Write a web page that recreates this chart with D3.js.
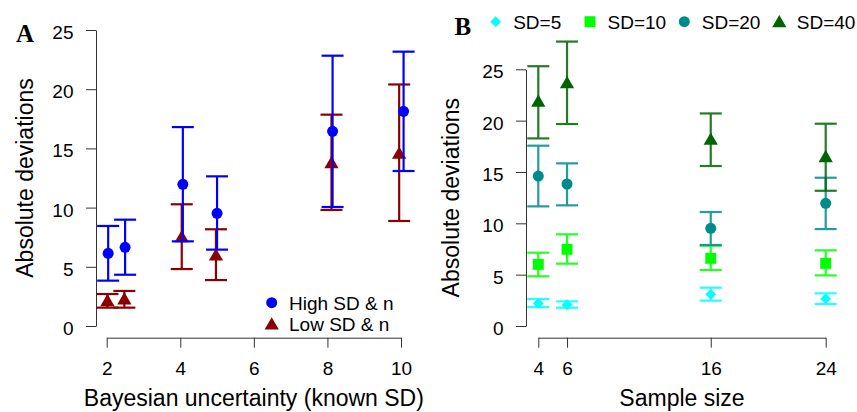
<!DOCTYPE html>
<html>
<head>
<meta charset="utf-8">
<script src="https://cdn.jsdelivr.net/npm/d3@7"></script>
<style>
  body { margin: 0; background: #fff; }
  svg { display: block; font-family: "Liberation Sans", Arial, sans-serif; }
</style>
</head>
<body>
<div id="chart"></div>
<script>
// Panel A: Bayesian uncertainty (known SD)
const aTicks = [2, 4, 6, 8, 10];
const yTicks = [0, 5, 10, 15, 20, 25];

const highX = [2.04, 2.5, 4.07, 5.0, 8.14, 10.07];
const highMean = [6.14, 6.65, 11.97, 9.52, 16.44, 18.13];
const highLo = [3.83, 4.33, 7.15, 6.45, 10.05, 13.09];
const highHi = [8.45, 8.98, 16.8, 12.64, 22.83, 23.17];

const lowX = [2.02, 2.48, 4.04, 4.97, 8.11, 9.95];
const lowMean = [2.15, 2.3, 7.55, 6.0, 13.8, 14.6];
const lowLo = [1.55, 1.55, 4.81, 3.88, 9.8, 8.87];
const lowHi = [2.7, 2.96, 10.28, 8.17, 17.85, 20.4];

// Panel B: Sample size
const sampleSizes = [4, 6, 16, 24];
const sdLabels = ['SD=5', 'SD=10', 'SD=20', 'SD=40'];

const sd5Mean = [2.2, 2.07, 3.08, 2.66];
const sd5Lo = [1.85, 1.78, 2.47, 2.14];
const sd5Hi = [2.63, 2.4, 3.73, 3.18];

const sd10Mean = [6.0, 7.47, 6.59, 6.1];
const sd10Lo = [4.84, 6.07, 5.45, 4.93];
const sd10Hi = [7.14, 8.93, 7.82, 7.37];

const sd20Mean = [14.6, 13.83, 9.51, 11.95];
const sd20Lo = [11.65, 11.75, 7.89, 9.44];
const sd20Hi = [17.56, 15.84, 11.1, 14.44];

const sd40Mean = [21.9, 23.7, 18.2, 16.5];
const sd40Lo = [18.27, 19.67, 15.58, 13.17];
const sd40Hi = [25.3, 27.7, 20.7, 19.7];

const width = 857, height = 412;
const svg = d3.select('#chart').append('svg')
  .attr('width', width)
  .attr('height', height);

const symbols = {
  circle: { gen: d3.symbol().type(d3.symbolCircle).size(95), rot: 0, dy: 0 },
  triangle: { gen: d3.symbol().type(d3.symbolTriangle).size(88), rot: 0, dy: 1.5 },
  square: { gen: d3.symbol().type(d3.symbolSquare).size(120), rot: 0, dy: 0 },
  diamond: { gen: d3.symbol().type(d3.symbolSquare).size(58), rot: 45, dy: 0 }
};

function addSymbol(g, name, cx, cy, color) {
  const s = symbols[name];
  return g.append('path')
    .attr('d', s.gen())
    .attr('transform', `translate(${cx},${cy + s.dy}) rotate(${s.rot})`)
    .attr('fill', color);
}

function drawAxes(g, x, y, xTicks, yAxisX, xTitle, yTitleX, xTitleY) {
  const xAxis = g.append('g')
    .attr('transform', 'translate(0,337.7)')
    .call(d3.axisBottom(x).tickValues(xTicks).tickSize(10).tickSizeOuter(0).tickPadding(14));
  const yAxis = g.append('g')
    .attr('transform', `translate(${yAxisX},0)`)
    .call(d3.axisLeft(y).tickValues(yTicks).tickSize(10).tickSizeOuter(0).tickPadding(12.5));

  [xAxis, yAxis].forEach(ax => {
    ax.select('.domain').attr('stroke', '#333').attr('stroke-width', 1);
    ax.selectAll('.tick line').attr('stroke', '#333').attr('stroke-width', 1);
    ax.selectAll('.tick text')
      .attr('fill', '#000')
      .style('font-size', '19px')
      .style('font-family', '"Liberation Sans", Arial, sans-serif');
  });
  yAxis.selectAll('.tick text').attr('dy', '0.45em');

  g.append('text')
    .attr('x', d3.mean(x.range()))
    .attr('y', xTitleY)
    .attr('text-anchor', 'middle')
    .style('font-size', '23px')
    .text(xTitle);

  g.append('text')
    .attr('transform', `translate(${yTitleX},${d3.mean(y.range())}) rotate(-90)`)
    .attr('text-anchor', 'middle')
    .style('font-size', '23px')
    .text('Absolute deviations');
}

function drawErrorBars(g, x, y, xs, means, lo, hi, color, symbol, opacity) {
  const grp = g.append('g');
  xs.forEach((xv, i) => {
    const cx = x(xv);
    const bar = grp.append('g')
      .attr('stroke', color)
      .attr('stroke-width', 2.2)
      .attr('opacity', opacity);
    bar.append('line').attr('x1', cx).attr('x2', cx).attr('y1', y(lo[i])).attr('y2', y(hi[i]));
    bar.append('line').attr('x1', cx - 11).attr('x2', cx + 11).attr('y1', y(lo[i])).attr('y2', y(lo[i]));
    bar.append('line').attr('x1', cx - 11).attr('x2', cx + 11).attr('y1', y(hi[i])).attr('y2', y(hi[i]));
    addSymbol(grp, symbol, cx, y(means[i]), color);
  });
}

function panelLetter(g, letter, x, y) {
  g.append('text')
    .attr('x', x)
    .attr('y', y)
    .style('font-family', '"Liberation Serif", "Times New Roman", serif')
    .style('font-weight', 'bold')
    .style('font-size', '25px')
    .text(letter);
}

// ---- Panel A ----
const gA = svg.append('g');
const xA = d3.scaleLinear().domain([2, 10]).range([106.7, 401]);
const yA = d3.scaleLinear().domain([0, 25]).range([326, 30]);
drawAxes(gA, xA, yA, aTicks, 96, 'Bayesian uncertainty (known SD)', 33, 406);

drawErrorBars(gA, xA, yA, lowX, lowMean, lowLo, lowHi, '#8B0000', 'triangle', 1);
drawErrorBars(gA, xA, yA, highX, highMean, highLo, highHi, '#0000FF', 'circle', 1);

[['High SD & n', '#0000FF', 'circle', 302.7], ['Low SD & n', '#8B0000', 'triangle', 324]].forEach(d => {
  addSymbol(gA, d[2], 271.7, d[3], d[1]);
  gA.append('text')
    .attr('x', 289)
    .attr('y', d[3] + 7)
    .style('font-size', '19px')
    .text(d[0]);
});

panelLetter(gA, 'A', 16, 41.5);

// ---- Panel B ----
const gB = svg.append('g');
const xB = d3.scaleLinear().domain([4, 24]).range([538.3, 825.7]);
const yB = d3.scaleLinear().domain([0, 25]).range([326, 69.3]);
drawAxes(gB, xB, yB, sampleSizes, 526, 'Sample size', 459, 406);

const sdColors = ['#00FFFF', '#00FF00', '#008B8B', '#006400'];
const sdSymbols = ['diamond', 'square', 'circle', 'triangle'];
const sdSeries = [
  [sd5Mean, sd5Lo, sd5Hi],
  [sd10Mean, sd10Lo, sd10Hi],
  [sd20Mean, sd20Lo, sd20Hi],
  [sd40Mean, sd40Lo, sd40Hi]
];
sdSeries.forEach((s, i) => {
  drawErrorBars(gB, xB, yB, sampleSizes, s[0], s[1], s[2], sdColors[i], sdSymbols[i], 0.85);
});

const legX = [495.7, 590, 684.3, 779.3];
sdLabels.forEach((lab, i) => {
  addSymbol(gB, sdSymbols[i], legX[i], 21.7, sdColors[i]);
  gB.append('text')
    .attr('x', legX[i] + 17.5)
    .attr('y', 28.5)
    .style('font-size', '19px')
    .text(lab);
});

panelLetter(gB, 'B', 454.5, 34.5);
</script>
</body>
</html>
